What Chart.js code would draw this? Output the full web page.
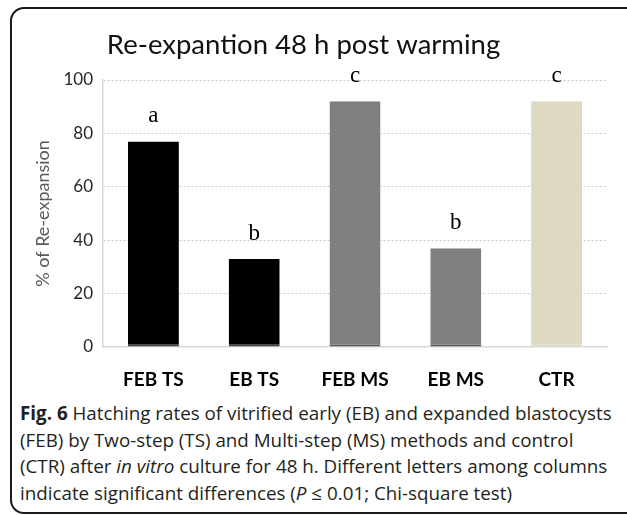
<!DOCTYPE html>
<html lang="en">
<head>
<meta charset="UTF-8">
<title>Re-expantion 48 h post warming</title>
<script src="https://cdn.jsdelivr.net/npm/chart.js"></script>
<style>
  body { margin: 0; background: #fff; }
  #frame { position: absolute; left: 10px; top: 7px; width: 640px; height: 503px; border: 2px solid #1a1a1a; border-radius: 14px; }
  #wrap { position: absolute; left: 0; top: 0; width: 627px; height: 400px; }
  #caption { position: absolute; left: 20px; top: 400px; white-space: nowrap; font-family: "Open Sans"; font-size: 18.8px; line-height: 26.5px; color: #231f20; }
</style>
</head>
<body>
<div id="frame"></div>
<div id="wrap"><canvas id="chart" width="627" height="400"></canvas></div>
<div id="caption">
  <b>Fig. 6</b> Hatching rates of vitrified early (EB) and expanded blastocysts<br>
  (FEB) by Two-step (TS) and Multi-step (MS) methods and control<br>
  (CTR) after <i>in vitro</i> culture for 48 h. Different letters among columns<br>
  indicate significant differences (<i>P</i> ≤ 0.01; Chi-square test)
</div>
<script>
  const groups = ['FEB TS', 'EB TS', 'FEB MS', 'EB MS', 'CTR'];
  const reexpansion = [77, 33, 92, 37, 92];
  const letters = ['a', 'b', 'c', 'b', 'c'];
  const barColors = ['#000000', '#000000', '#7f7f7f', '#7f7f7f', '#ddd9c3'];
  const baseColors = ['#404040', '#404040', '#595959', '#595959', '#ddd9c3'];

  // letters of significance above each bar
  const letterPlugin = {
    id: 'letters',
    afterDatasetsDraw(chart) {
      const ctx = chart.ctx;
      const bars = chart.getDatasetMeta(0).data;
      ctx.save();
      ctx.font = '23px "Liberation Serif"';
      ctx.fillStyle = '#000';
      ctx.textAlign = 'center';
      ctx.textBaseline = 'middle';
      bars.forEach((bar, i) => {
        ctx.fillText(letters[i], bar.x, bar.y - 25);
      });
      ctx.restore();
    }
  };

  Chart.defaults.font.family = 'Lato';

  new Chart(document.getElementById('chart'), {
    type: 'bar',
    data: {
      labels: groups,
      datasets: [{
        data: reexpansion,
        backgroundColor: barColors,
        borderColor: baseColors,
        borderWidth: { top: 0, left: 0, right: 0, bottom: 2 },
        borderSkipped: false,
        barPercentage: 0.506,
        categoryPercentage: 1
      }]
    },
    options: {
      responsive: false,
      animation: false,
      layout: { padding: { left: 0, right: 20, top: 0, bottom: 0 } },
      plugins: {
        legend: { display: false },
        tooltip: { enabled: false },
        title: {
          display: true,
          text: 'Re-expantion 48 h post warming',
          color: '#111',
          font: { size: 27.5, weight: 'normal' },
          padding: { top: 29, bottom: 18 }
        }
      },
      scales: {
        x: {
          grid: { display: false, drawTicks: false },
          border: { color: '#d9d9d9', width: 1.5 },
          ticks: { color: '#000', font: { size: 19, weight: 'bold' }, padding: 21 },
          afterFit: s => { s.height = 53; }
        },
        y: {
          min: 0,
          max: 100,
          ticks: { stepSize: 20, color: '#262626', font: { size: 17 }, padding: 10 },
          grid: {
            drawTicks: false,
            color: c => c.tick.value === 0 ? 'rgba(0,0,0,0)' : '#c8c8c8'
          },
          border: { color: '#d9d9d9', width: 1.5, dash: [2, 2] },
          title: {
            display: true,
            text: '% of Re-expansion',
            color: '#595959',
            font: { size: 18 },
            padding: { top: 32, bottom: 0 }
          },
          afterFit: s => { s.width = 103; }
        }
      }
    },
    plugins: [letterPlugin]
  });
</script>
</body>
</html>
